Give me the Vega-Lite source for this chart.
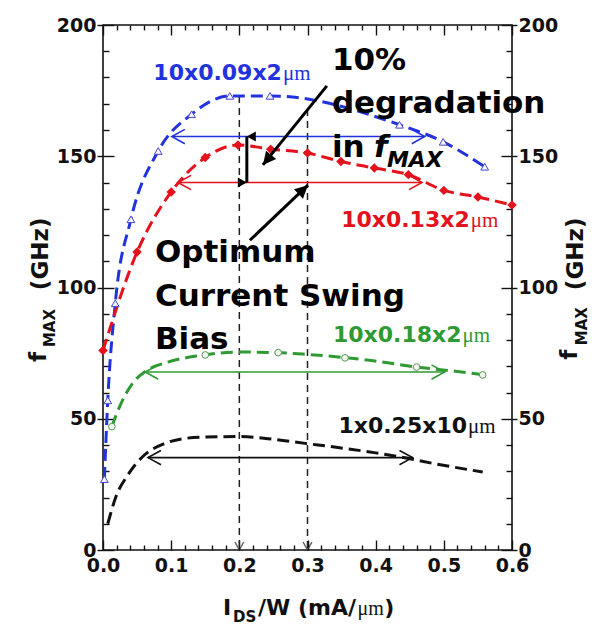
{
  "$schema": "https://vega.github.io/schema/vega-lite/v6.json",
  "width": 409,
  "height": 525,
  "autosize": {"type": "none"},
  "padding": {"left": 103, "top": 25, "right": 90, "bottom": 75},
  "background": "white",
  "config": {
    "view": {"stroke": "#111111", "strokeWidth": 1.6},
    "axis": {
      "domain": false,
      "grid": false,
      "tickColor": "#111111",
      "tickWidth": 1.4,
      "labelFont": "DejaVu Sans",
      "labelFontWeight": "bold",
      "labelFontSize": 19,
      "labelColor": "#111111",
      "labelFlush": false,
      "labelOverlap": false,
      "labelBound": false
    },
    "text": {"font": "DejaVu Sans", "color": "#000000"}
  },
  "datasets": {
    "curves": [
      {"series": "10x0.09x2μm", "x": 0.002, "f": 27},
      {"series": "10x0.09x2μm", "x": 0.007, "f": 57},
      {"series": "10x0.09x2μm", "x": 0.018, "f": 94},
      {"series": "10x0.09x2μm", "x": 0.041, "f": 126},
      {"series": "10x0.09x2μm", "x": 0.081, "f": 152},
      {"series": "10x0.09x2μm", "x": 0.13, "f": 166},
      {"series": "10x0.09x2μm", "x": 0.186, "f": 173},
      {"series": "10x0.09x2μm", "x": 0.245, "f": 173},
      {"series": "10x0.09x2μm", "x": 0.435, "f": 162},
      {"series": "10x0.09x2μm", "x": 0.499, "f": 155.5},
      {"series": "10x0.09x2μm", "x": 0.56, "f": 146},
      {"series": "10x0.13x2μm", "x": 0.0, "f": 76},
      {"series": "10x0.13x2μm", "x": 0.05, "f": 113.5},
      {"series": "10x0.13x2μm", "x": 0.1, "f": 136.4},
      {"series": "10x0.13x2μm", "x": 0.15, "f": 149.5},
      {"series": "10x0.13x2μm", "x": 0.198, "f": 154.3},
      {"series": "10x0.13x2μm", "x": 0.246, "f": 152.7},
      {"series": "10x0.13x2μm", "x": 0.3, "f": 151.2},
      {"series": "10x0.13x2μm", "x": 0.349, "f": 148},
      {"series": "10x0.13x2μm", "x": 0.398, "f": 145.5},
      {"series": "10x0.13x2μm", "x": 0.448, "f": 143},
      {"series": "10x0.13x2μm", "x": 0.5, "f": 137},
      {"series": "10x0.13x2μm", "x": 0.55, "f": 134.5},
      {"series": "10x0.13x2μm", "x": 0.6, "f": 131.4},
      {"series": "10x0.18x2μm", "x": 0.013, "f": 47},
      {"series": "10x0.18x2μm", "x": 0.025, "f": 55},
      {"series": "10x0.18x2μm", "x": 0.042, "f": 63},
      {"series": "10x0.18x2μm", "x": 0.065, "f": 68.5},
      {"series": "10x0.18x2μm", "x": 0.094, "f": 71.5},
      {"series": "10x0.18x2μm", "x": 0.14, "f": 74},
      {"series": "10x0.18x2μm", "x": 0.2, "f": 75.4},
      {"series": "10x0.18x2μm", "x": 0.255, "f": 75.2},
      {"series": "10x0.18x2μm", "x": 0.3, "f": 74.5},
      {"series": "10x0.18x2μm", "x": 0.387, "f": 72.4},
      {"series": "10x0.18x2μm", "x": 0.46, "f": 69.7},
      {"series": "10x0.18x2μm", "x": 0.52, "f": 68},
      {"series": "10x0.18x2μm", "x": 0.56, "f": 66.7},
      {"series": "1x0.25x10μm", "x": 0.007, "f": 10},
      {"series": "1x0.25x10μm", "x": 0.02, "f": 21},
      {"series": "1x0.25x10μm", "x": 0.035, "f": 28},
      {"series": "1x0.25x10μm", "x": 0.06, "f": 36},
      {"series": "1x0.25x10μm", "x": 0.09, "f": 40.5},
      {"series": "1x0.25x10μm", "x": 0.12, "f": 42.5},
      {"series": "1x0.25x10μm", "x": 0.15, "f": 43},
      {"series": "1x0.25x10μm", "x": 0.2, "f": 43.2},
      {"series": "1x0.25x10μm", "x": 0.25, "f": 42.2},
      {"series": "1x0.25x10μm", "x": 0.3, "f": 40.5},
      {"series": "1x0.25x10μm", "x": 0.337, "f": 39.3},
      {"series": "1x0.25x10μm", "x": 0.4, "f": 37},
      {"series": "1x0.25x10μm", "x": 0.435, "f": 35.5},
      {"series": "1x0.25x10μm", "x": 0.484, "f": 33},
      {"series": "1x0.25x10μm", "x": 0.557, "f": 29.7}
    ],
    "green_points": [
      {"x": 0.013, "f": 47},
      {"x": 0.15, "f": 74.3},
      {"x": 0.257, "f": 75.2},
      {"x": 0.355, "f": 73.2},
      {"x": 0.46, "f": 69.7},
      {"x": 0.557, "f": 66.7}
    ],
    "swings": [
      {"series": "10x0.09x2μm", "x0": 0.101, "x1": 0.472, "f": 157.5},
      {"series": "10x0.13x2μm", "x0": 0.11, "x1": 0.468, "f": 140},
      {"series": "10x0.18x2μm", "x0": 0.062, "x1": 0.501, "f": 67.8},
      {"series": "1x0.25x10μm", "x0": 0.066, "x1": 0.454, "f": 35.2}
    ],
    "bias": [
      {"x": 0.2, "top": 173},
      {"x": 0.3, "top": 168}
    ],
    "pointers": [
      {"id": "degradation", "x0": 0.3284, "f0": 176.8, "x1": 0.2346, "f1": 146.7},
      {"id": "optimum", "x0": 0.2155, "f0": 118, "x1": 0.3006, "f1": 139}
    ],
    "series_labels": [
      {"series": "10x0.09x2μm", "dims": "10x0.09x2", "x": 0.2625, "f": 179},
      {"series": "10x0.13x2μm", "dims": "10x0.13x2", "x": 0.538, "f": 123},
      {"series": "10x0.18x2μm", "dims": "10x0.18x2", "x": 0.526, "f": 79.2},
      {"series": "1x0.25x10μm", "dims": "1x0.25x10", "x": 0.534, "f": 44.6}
    ]
  },
  "resolve": {"axis": {"x": "independent", "y": "independent"}},
  "layer": [
    {
      "data": {"name": "curves"},
      "mark": {"type": "point", "opacity": 0},
      "encoding": {
        "x": {"field": "x", "type": "quantitative", "scale": {"domain": [0, 0.6], "nice": false, "zero": false},
              "axis": {"orient": "bottom", "title": null, "values": [0, 0.1, 0.2, 0.3, 0.4, 0.5, 0.6], "format": ".1f", "tickSize": -10, "labelPadding": 16}},
        "y": {"field": "f", "type": "quantitative", "scale": {"domain": [0, 200], "nice": false, "zero": false},
              "axis": {"orient": "left", "title": null, "values": [0, 50, 100, 150, 200], "tickSize": 6, "labelPadding": 1}}
      }
    },
    {
      "data": {"name": "curves"},
      "mark": {"type": "point", "opacity": 0},
      "encoding": {
        "x": {"field": "x", "type": "quantitative",
              "axis": {"orient": "top", "title": null, "values": [0, 0.1, 0.2, 0.3, 0.4, 0.5, 0.6], "labels": false, "tickSize": -10}},
        "y": {"field": "f", "type": "quantitative",
              "axis": {"orient": "left", "title": null, "values": [0, 50, 100, 150, 200], "labels": false, "tickSize": -11}}
      }
    },
    {
      "data": {"name": "curves"},
      "mark": {"type": "point", "opacity": 0},
      "encoding": {
        "x": {"field": "x", "type": "quantitative",
              "axis": {"orient": "bottom", "title": null, "values": [0.02, 0.04, 0.06, 0.08, 0.12, 0.14, 0.16, 0.18, 0.22, 0.24, 0.26, 0.28, 0.32, 0.34, 0.36, 0.38, 0.42, 0.44, 0.46, 0.48, 0.52, 0.54, 0.56, 0.58], "labels": false, "tickSize": -5}},
        "y": {"field": "f", "type": "quantitative",
              "axis": {"orient": "right", "title": null, "values": [0, 50, 100, 150, 200], "tickSize": 5, "labelPadding": 1}}
      }
    },
    {
      "data": {"name": "curves"},
      "mark": {"type": "point", "opacity": 0},
      "encoding": {
        "x": {"field": "x", "type": "quantitative",
              "axis": {"orient": "top", "title": null, "values": [0.02, 0.04, 0.06, 0.08, 0.12, 0.14, 0.16, 0.18, 0.22, 0.24, 0.26, 0.28, 0.32, 0.34, 0.36, 0.38, 0.42, 0.44, 0.46, 0.48, 0.52, 0.54, 0.56, 0.58], "labels": false, "tickSize": -5}},
        "y": {"field": "f", "type": "quantitative",
              "axis": {"orient": "right", "title": null, "values": [0, 50, 100, 150, 200], "labels": false, "tickSize": -11}}
      }
    },
    {
      "data": {"name": "curves"},
      "mark": {"type": "point", "opacity": 0},
      "encoding": {
        "x": {"field": "x", "type": "quantitative", "axis": null},
        "y": {"field": "f", "type": "quantitative",
              "axis": {"orient": "left", "title": null, "values": [10, 20, 30, 40, 60, 70, 80, 90, 110, 120, 130, 140, 160, 170, 180, 190], "labels": false, "tickSize": -6}}
      }
    },
    {
      "data": {"name": "curves"},
      "mark": {"type": "point", "opacity": 0},
      "encoding": {
        "x": {"field": "x", "type": "quantitative", "axis": null},
        "y": {"field": "f", "type": "quantitative",
              "axis": {"orient": "right", "title": null, "values": [10, 20, 30, 40, 60, 70, 80, 90, 110, 120, 130, 140, 160, 170, 180, 190], "labels": false, "tickSize": -6}}
      }
    },
    {
      "data": {"name": "bias"},
      "mark": {"type": "rule", "color": "#222222", "strokeWidth": 1.5, "strokeDash": [7, 5]},
      "encoding": {
        "x": {"field": "x", "type": "quantitative", "axis": null},
        "y": {"field": "top", "type": "quantitative", "axis": null},
        "y2": {"datum": 0}
      }
    },
    {
      "data": {"name": "bias"},
      "mark": {"type": "point", "shape": "M-0.55,-1L0,0L0.55,-1", "filled": false, "stroke": "#222222", "strokeWidth": 1.5, "size": 256},
      "encoding": {
        "x": {"field": "x", "type": "quantitative", "axis": null},
        "y": {"datum": 0, "type": "quantitative", "axis": null}
      }
    },
    {
      "data": {"name": "swings"},
      "mark": {"type": "rule", "strokeWidth": 1.6},
      "encoding": {
        "x": {"field": "x0", "type": "quantitative", "axis": null},
        "x2": {"field": "x1"},
        "y": {"field": "f", "type": "quantitative", "axis": null},
        "color": {"field": "series", "type": "nominal", "legend": null,
                  "scale": {"domain": ["10x0.09x2μm", "10x0.13x2μm", "10x0.18x2μm", "1x0.25x10μm"], "range": ["#2233dd", "#e3121c", "#2f9a34", "#111111"]}}
      }
    },
    {
      "data": {"name": "swings"},
      "transform": [{"fold": ["x0", "x1"], "as": ["end", "xe"]}],
      "mark": {"type": "point", "filled": false, "strokeWidth": 1.6, "size": 676, "opacity": 1},
      "encoding": {
        "x": {"field": "xe", "type": "quantitative", "axis": null},
        "y": {"field": "f", "type": "quantitative", "axis": null},
        "shape": {"field": "end", "type": "nominal", "legend": null,
                  "scale": {"domain": ["x0", "x1"], "range": ["M1,-0.55L0,0L1,0.55", "M-1,-0.55L0,0L-1,0.55"]}},
        "color": {"field": "series", "type": "nominal", "legend": null}
      }
    },
    {
      "data": {"name": "curves"},
      "mark": {"type": "line", "strokeWidth": 3, "strokeDash": [12, 6], "interpolate": "monotone"},
      "encoding": {
        "x": {"field": "x", "type": "quantitative", "axis": null},
        "y": {"field": "f", "type": "quantitative", "axis": null},
        "color": {"field": "series", "type": "nominal", "legend": null}
      }
    },
    {
      "data": {"name": "curves"},
      "transform": [{"filter": "datum.series === '10x0.09x2μm'"}],
      "mark": {"type": "point", "shape": "triangle-up", "filled": true, "fill": "#f2f2fb", "stroke": "#4a4ac8", "strokeWidth": 1, "size": 60, "opacity": 1},
      "encoding": {
        "x": {"field": "x", "type": "quantitative", "axis": null},
        "y": {"field": "f", "type": "quantitative", "axis": null}
      }
    },
    {
      "data": {"name": "curves"},
      "transform": [{"filter": "datum.series === '10x0.13x2μm'"}],
      "mark": {"type": "point", "shape": "diamond", "filled": true, "color": "#e3121c", "size": 90, "opacity": 1},
      "encoding": {
        "x": {"field": "x", "type": "quantitative", "axis": null},
        "y": {"field": "f", "type": "quantitative", "axis": null}
      }
    },
    {
      "data": {"name": "green_points"},
      "mark": {"type": "point", "shape": "circle", "filled": true, "fill": "#eef6ee", "stroke": "#5a9a5a", "strokeWidth": 1, "size": 45, "opacity": 1},
      "encoding": {
        "x": {"field": "x", "type": "quantitative", "axis": null},
        "y": {"field": "f", "type": "quantitative", "axis": null}
      }
    },
    {
      "data": {"values": [{"x": 0.211, "lo": 140, "hi": 157.5}]},
      "mark": {"type": "rule", "color": "#000000", "strokeWidth": 3},
      "encoding": {
        "x": {"field": "x", "type": "quantitative", "axis": null},
        "y": {"field": "lo", "type": "quantitative", "axis": null},
        "y2": {"field": "hi"}
      }
    },
    {
      "data": {"values": [{"x": 0.211, "lo": 140, "hi": 157.5}]},
      "transform": [{"fold": ["lo", "hi"], "as": ["end", "fe"]}],
      "mark": {"type": "point", "filled": true, "color": "#000000", "size": 324, "opacity": 1},
      "encoding": {
        "x": {"field": "x", "type": "quantitative", "axis": null},
        "y": {"field": "fe", "type": "quantitative", "axis": null},
        "shape": {"field": "end", "type": "nominal", "legend": null,
                  "scale": {"domain": ["hi", "lo"], "range": ["M0,0L-0.6,1.1L0.6,1.1Z", "M0,0L-0.6,-1.1L0.6,-1.1Z"]}}
      }
    },
    {
      "data": {"name": "pointers"},
      "mark": {"type": "rule", "color": "#000000", "strokeWidth": 3},
      "encoding": {
        "x": {"field": "x0", "type": "quantitative", "axis": null},
        "y": {"field": "f0", "type": "quantitative", "axis": null},
        "x2": {"field": "x1"},
        "y2": {"field": "f1"}
      }
    },
    {
      "data": {"name": "pointers"},
      "transform": [{"filter": "datum.id === 'degradation'"}],
      "mark": {"type": "point", "shape": "M0,0L-1,-0.5L-1,0.5Z", "filled": true, "color": "#000000", "size": 676, "angle": 129, "opacity": 1},
      "encoding": {
        "x": {"field": "x1", "type": "quantitative", "axis": null},
        "y": {"field": "f1", "type": "quantitative", "axis": null}
      }
    },
    {
      "data": {"name": "pointers"},
      "transform": [{"filter": "datum.id === 'optimum'"}],
      "mark": {"type": "point", "shape": "M0,0L-1,-0.5L-1,0.5Z", "filled": true, "color": "#000000", "size": 676, "angle": 316.5, "opacity": 1},
      "encoding": {
        "x": {"field": "x1", "type": "quantitative", "axis": null},
        "y": {"field": "f1", "type": "quantitative", "axis": null}
      }
    },
    {
      "data": {"name": "series_labels"},
      "mark": {"type": "text", "align": "right", "baseline": "alphabetic", "fontWeight": "bold", "fontSize": 22},
      "encoding": {
        "x": {"field": "x", "type": "quantitative", "axis": null},
        "y": {"field": "f", "type": "quantitative", "axis": null},
        "text": {"field": "dims"},
        "color": {"field": "series", "type": "nominal", "legend": null}
      }
    },
    {
      "data": {"name": "series_labels"},
      "mark": {"type": "text", "align": "left", "baseline": "alphabetic", "font": "Liberation Serif", "fontSize": 21, "dx": 1},
      "encoding": {
        "x": {"field": "x", "type": "quantitative", "axis": null},
        "y": {"field": "f", "type": "quantitative", "axis": null},
        "text": {"value": "μm"},
        "color": {"field": "series", "type": "nominal", "legend": null}
      }
    },
    {
      "data": {"values": [
        {"text": "10%", "x": 0.3358, "f": 182.9},
        {"text": "degradation", "x": 0.3358, "f": 166.5},
        {"text": "in", "x": 0.3358, "f": 149.7},
        {"text": "Optimum", "x": 0.0762, "f": 109.7},
        {"text": "Current Swing", "x": 0.0762, "f": 93.1},
        {"text": "Bias", "x": 0.0762, "f": 76.6}
      ]},
      "mark": {"type": "text", "align": "left", "baseline": "alphabetic", "fontWeight": "bold", "fontSize": 31, "color": "#000000"},
      "encoding": {
        "x": {"field": "x", "type": "quantitative", "axis": null},
        "y": {"field": "f", "type": "quantitative", "axis": null},
        "text": {"field": "text"}
      }
    },
    {
      "data": {"values": [{"text": "f", "x": 0.3975, "f": 149.7}]},
      "mark": {"type": "text", "align": "left", "baseline": "alphabetic", "fontWeight": "bold", "fontStyle": "italic", "fontSize": 31, "color": "#000000"},
      "encoding": {
        "x": {"field": "x", "type": "quantitative", "axis": null},
        "y": {"field": "f", "type": "quantitative", "axis": null},
        "text": {"field": "text"}
      }
    },
    {
      "data": {"values": [{"text": "MAX", "x": 0.4165, "f": 145.9}]},
      "mark": {"type": "text", "align": "left", "baseline": "alphabetic", "fontWeight": "bold", "fontStyle": "italic", "fontSize": 22, "color": "#000000"},
      "encoding": {
        "x": {"field": "x", "type": "quantitative", "axis": null},
        "y": {"field": "f", "type": "quantitative", "axis": null},
        "text": {"field": "text"}
      }
    },
    {
      "data": {"values": [
        {"text": "I", "x": 0.176, "f": -24.8},
        {"text": "/W (mA/", "x": 0.2273, "f": -24.8},
        {"text": ")", "x": 0.4125, "f": -24.8}
      ]},
      "mark": {"type": "text", "align": "left", "baseline": "alphabetic", "fontWeight": "bold", "fontSize": 22, "color": "#111111"},
      "encoding": {
        "x": {"field": "x", "type": "quantitative", "axis": null},
        "y": {"field": "f", "type": "quantitative", "axis": null},
        "text": {"field": "text"}
      }
    },
    {
      "data": {"values": [{"text": "DS", "x": 0.1906, "f": -27.6}]},
      "mark": {"type": "text", "align": "left", "baseline": "alphabetic", "fontWeight": "bold", "fontSize": 15, "color": "#111111"},
      "encoding": {
        "x": {"field": "x", "type": "quantitative", "axis": null},
        "y": {"field": "f", "type": "quantitative", "axis": null},
        "text": {"field": "text"}
      }
    },
    {
      "data": {"values": [{"text": "μm", "x": 0.3735, "f": -24.8}]},
      "mark": {"type": "text", "align": "left", "baseline": "alphabetic", "font": "Liberation Serif", "fontSize": 20, "color": "#111111"},
      "encoding": {
        "x": {"field": "x", "type": "quantitative", "axis": null},
        "y": {"field": "f", "type": "quantitative", "axis": null},
        "text": {"field": "text"}
      }
    },
    {
      "data": {"values": [
        {"text": "f", "x": -0.0836, "f": 71.6},
        {"text": "(GHz)", "x": -0.0814, "f": 99},
        {"text": "f", "x": 0.6955, "f": 72.5},
        {"text": "(GHz)", "x": 0.7038, "f": 99}
      ]},
      "mark": {"type": "text", "align": "left", "baseline": "alphabetic", "angle": 270, "fontWeight": "bold", "fontSize": 23, "color": "#111111"},
      "encoding": {
        "x": {"field": "x", "type": "quantitative", "axis": null},
        "y": {"field": "f", "type": "quantitative", "axis": null},
        "text": {"field": "text"}
      }
    },
    {
      "data": {"values": [
        {"text": "MAX", "x": -0.0704, "f": 77.3},
        {"text": "MAX", "x": 0.7097, "f": 78}
      ]},
      "mark": {"type": "text", "align": "left", "baseline": "alphabetic", "angle": 270, "fontWeight": "bold", "fontSize": 15, "color": "#111111"},
      "encoding": {
        "x": {"field": "x", "type": "quantitative", "axis": null},
        "y": {"field": "f", "type": "quantitative", "axis": null},
        "text": {"field": "text"}
      }
    }
  ]
}
